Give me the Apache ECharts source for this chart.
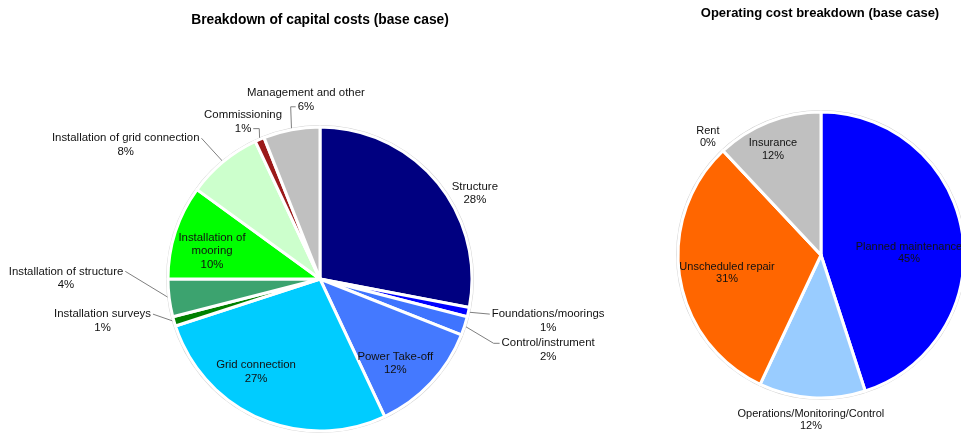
<!DOCTYPE html>
<html>
<head>
<meta charset="utf-8">
<script src="https://cdn.jsdelivr.net/npm/echarts@6/dist/echarts.min.js"></script>
<style>
  html, body { margin: 0; padding: 0; background: #fff; }
  #chart { width: 961px; height: 434px; }
</style>
</head>
<body>
<div id="chart"></div>
<script>
// Capital cost shares (%), clockwise from 12 o'clock
const capitalCategories = [
  'Structure', 'Foundations/moorings', 'Control/instrument', 'Power Take-off',
  'Grid connection', 'Installation surveys', 'Installation of structure',
  'Installation of mooring', 'Installation of grid connection', 'Commissioning',
  'Management and other'
];
const capitalShares = [28, 1, 2, 12, 27, 1, 4, 10, 8, 1, 6];

// Operating cost shares (%), clockwise from 12 o'clock
const operatingCategories = [
  'Planned maintenance', 'Operations/Monitoring/Control', 'Unscheduled repair',
  'Rent', 'Insurance'
];
const operatingShares = [45, 12, 31, 0, 12];

const capitalColors = ['#000080', '#0000ff', '#3f74ff', '#4479ff', '#00ccff', '#008000',
  '#3ca36f', '#00ff00', '#ccffcc', '#9b1a1a', '#c0c0c0'];
const operatingColors = ['#0000ff', '#99ccff', '#ff6600', '#993366', '#c0c0c0'];

// Label placement relative to each slice's mid angle:
// off = angular offset (deg, clockwise), dist = distance from centre in radii,
// attach = which text line the leader line meets, bend = short horizontal run of the leader
const capitalPlacement = {
  'Structure':                      { off: 10.6, dist: 1.165, line: false },
  'Foundations/moorings':           { off: -2.2, dist: 1.526, line: true, attach: 'first', bend: 0 },
  'Control/instrument':             { off: -0.7, dist: 1.572, line: true, attach: 'first', bend: 6 },
  'Power Take-off':                 { off: 5.0,  dist: 0.743, line: false },
  'Grid connection':                { off: 11.1, dist: 0.743, line: false },
  'Installation surveys':           { off: 5.3,  dist: 1.457, line: true, attach: 'first', bend: 0 },
  'Installation of structure':      { off: 7.4,  dist: 1.671, line: true, attach: 'first', bend: 0 },
  'Installation of mooring':        { off: -3.5, dist: 0.734, line: false },
  'Installation of grid connection':{ off: -15.8,dist: 1.553, line: true, attach: 'first', bend: 0 },
  'Commissioning':                  { off: -2.7, dist: 1.151, line: true, attach: 'last', bend: 6 },
  'Management and other':           { off: 6.3,  dist: 1.181, line: true, attach: 'last', bend: 5 }
};
const operatingPlacement = {
  'Planned maintenance':            { off: 7.7,  dist: 0.615, line: false },
  'Operations/Monitoring/Control':  { off: -0.1, dist: 1.156, line: false },
  'Unscheduled repair':             { off: -1.8, dist: 0.669, line: false },
  'Rent':                           { off: -0.6, dist: 1.143, line: false },
  'Insurance':                      { off: -2.9, dist: 0.81,  line: false }
};
const wrappedNames = { 'Installation of mooring': 'Installation of\nmooring' };

const FONT = '"Liberation Sans", Arial, sans-serif';
const capCenter = [320, 279], capR = 152;
const opCenter = [821, 255], opR = 143;
const capFont = { size: 11.4, lh: 13.5 };
const opFont = { size: 11, lh: 12.5 };

const measureCtx = document.createElement('canvas').getContext('2d');
function textWidth(s, size) {
  measureCtx.font = size + 'px "Liberation Sans", Arial, sans-serif';
  return measureCtx.measureText(s).width;
}

function labelLines(name, value) {
  const text = wrappedNames[name] || name;
  return text.split('\n').concat([Math.round(value) + '%']);
}

function makeFormatter() {
  return p => labelLines(p.name, p.value).map(l => '{c|' + l + '}').join('\n');
}

function richStyle(f) {
  return { c: { align: 'center', fontSize: f.size, fontFamily: FONT, color: '#111',
    lineHeight: f.lh, textBorderWidth: 0 } };
}

function buildData(cats, vals, colors, placement) {
  return cats.map((name, i) => ({
    name, value: vals[i],
    itemStyle: { color: colors[i] },
    label: { position: placement[name].dist < 1 ? 'inside' : 'outside' },
    labelLine: { show: placement[name].line }
  }));
}

let chart;

// Position each label from its slice's computed angle, and route its leader line
function placeLabels(seriesIndex, cats, vals, placement, font) {
  return function (params) {
    const data = chart.getModel().getSeriesByIndex(seriesIndex).getData();
    const lay = data.getItemLayout(params.dataIndex);
    if (!lay) return {};
    const name = cats[params.dataIndex];
    const pl = placement[name];
    const mid = (lay.startAngle + lay.endAngle) / 2;
    const t = mid + pl.off * Math.PI / 180;
    const lx = lay.cx + pl.dist * lay.r * Math.cos(t);
    const ly = lay.cy + pl.dist * lay.r * Math.sin(t);
    const out = { x: lx, y: ly, align: 'center', verticalAlign: 'middle' };
    if (pl.line) {
      const lines = labelLines(name, vals[params.dataIndex]);
      const k = pl.attach === 'last' ? lines.length - 1 : 0;
      const yLine = ly - lines.length * font.lh / 2 + font.lh * (k + 0.5);
      const w = textWidth(lines[k], font.size);
      const p0 = [lay.cx + lay.r * Math.cos(mid), lay.cy + lay.r * Math.sin(mid)];
      const leftOfSlice = lx < p0[0];
      const xEnd = leftOfSlice ? lx + w / 2 + 2 : lx - w / 2 - 2;
      const xBend = leftOfSlice ? xEnd + pl.bend : xEnd - pl.bend;
      out.labelLinePoints = [p0, [xBend, yLine], [xEnd, yLine]];
    }
    return out;
  };
}

function ring(center, r) {
  return {
    type: 'pie', center, radius: [r + 1, r + 2], silent: true, z: 1,
    startAngle: 90, label: { show: false }, labelLine: { show: false },
    itemStyle: { color: '#d4d4d4', borderWidth: 0 },
    emphasis: { disabled: true }, tooltip: { show: false },
    data: [{ value: 1, name: '' }]
  };
}

chart = echarts.init(document.getElementById('chart'), null, { renderer: 'canvas' });
chart.setOption({
  animation: false,
  backgroundColor: '#ffffff',
  title: [
    { text: 'Breakdown of capital costs (base case)', left: 320, top: 13, padding: 0, textAlign: 'center',
      textStyle: { fontSize: 13.8, fontWeight: 'bold', fontFamily: FONT, color: '#000' } },
    { text: 'Operating cost breakdown (base case)', left: 820, top: 7, padding: 0, textAlign: 'center',
      textStyle: { fontSize: 13, fontWeight: 'bold', fontFamily: FONT, color: '#000' } }
  ],
  series: [
    ring(capCenter, capR),
    {
      type: 'pie', center: capCenter, radius: [0, capR], startAngle: 90, clockwise: true, z: 2,
      avoidLabelOverlap: false, minAngle: 0,
      itemStyle: { borderColor: '#fff', borderWidth: 3 },
      label: { show: true, formatter: makeFormatter(), rich: richStyle(capFont), alignTo: 'none',
        textBorderWidth: 0 },
      labelLine: { length: 8, length2: 8, lineStyle: { color: '#7f7f7f', width: 1 } },
      labelLayout: placeLabels(1, capitalCategories, capitalShares, capitalPlacement, capFont),
      emphasis: { disabled: true },
      data: buildData(capitalCategories, capitalShares, capitalColors, capitalPlacement)
    },
    ring(opCenter, opR),
    {
      type: 'pie', center: opCenter, radius: [0, opR], startAngle: 90, clockwise: true, z: 2,
      avoidLabelOverlap: false, minAngle: 0, stillShowZeroSum: true,
      itemStyle: { borderColor: '#fff', borderWidth: 3 },
      label: { show: true, formatter: makeFormatter(), rich: richStyle(opFont), alignTo: 'none',
        textBorderWidth: 0 },
      labelLine: { length: 8, length2: 8, lineStyle: { color: '#7f7f7f', width: 1 } },
      labelLayout: placeLabels(3, operatingCategories, operatingShares, operatingPlacement, opFont),
      emphasis: { disabled: true },
      data: buildData(operatingCategories, operatingShares, operatingColors, operatingPlacement)
    }
  ]
});
</script>
</body>
</html>
